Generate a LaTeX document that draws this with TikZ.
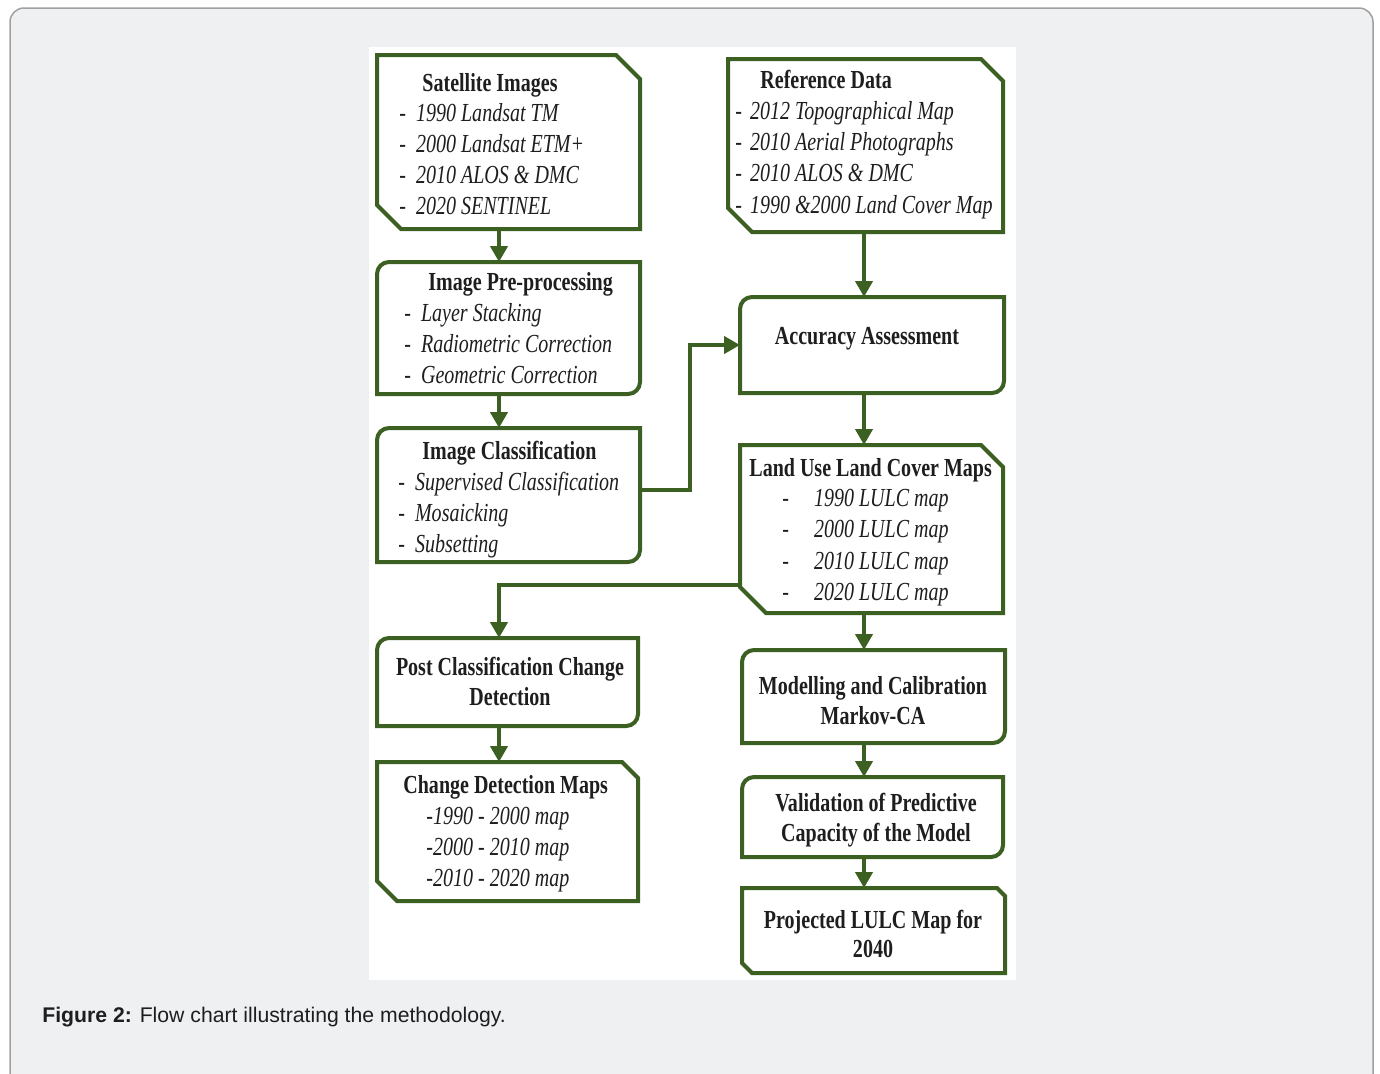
\documentclass[tikz,border=0pt]{standalone}
\usepackage{fontspec}
\setmainfont{Liberation Serif}
\newfontfamily\tnr[FakeStretch=0.77]{Liberation Serif}
\newfontfamily\capfont{Liberation Sans}
\usetikzlibrary{arrows.meta,calc}
\definecolor{grn}{RGB}{60,96,34}
\definecolor{framebg}{RGB}{239,240,242}
\definecolor{framedraw}{RGB}{160,160,160}
\definecolor{txtc}{RGB}{30,30,30}
\newcommand\cutbox[3]{%
 \draw[boxline] (#1.north west) -- ([xshift=-#2]#1.north east) -- ([yshift=-#2]#1.north east) -- (#1.south east) -- ([xshift=#3]#1.south west) -- ([yshift=#3]#1.south west) -- cycle;}
\newcommand\rndbox[1]{%
 \draw[boxline] ([yshift=-6pt]#1.north west) -- (#1.south west) -- ([xshift=-6pt]#1.south east) arc[start angle=-90,end angle=0,radius=6pt] -- (#1.north east) -- ([xshift=6pt]#1.north west) arc[start angle=90,end angle=180,radius=6pt] -- cycle;}
\begin{document}
\begin{tikzpicture}[x=0.5pt,y=-0.5pt,
  frame/.style={draw=none, inner sep=0pt, outer sep=0pt, rectangle},
  boxline/.style={draw=grn, line width=2pt, line join=miter},
  arr/.style={draw=grn, line width=2.2pt, -{Triangle[width=8.5pt,length=8pt]}},
  ttl/.style={font=\tnr\fontsize{13}{15}\selectfont\bfseries, inner sep=0pt, text=txtc},
  itm/.style={font=\tnr\fontsize{13}{15}\selectfont, inner sep=0pt, text=txtc, anchor=base west}]
\useasboundingbox (0,0) rectangle (1380,1073);
\clip (0,0) rectangle (1380,1073);
\fill[white] (0,0) rectangle (1380,1073);
\draw[draw=framedraw, fill=framebg, line width=0.75pt, rounded corners=7pt] (10,8) rectangle (1373,1095);
\fill[white] (369,47) rectangle (1016,980);

% box nodes
\node[frame, minimum width=131.5pt, minimum height=87pt] (sat) at (508.5,142) {};
\node[frame, minimum width=137.5pt, minimum height=86.5pt] (ref) at (865.5,145.5) {};
\node[frame, minimum width=131.5pt, minimum height=66pt] (pre) at (508.5,328) {};
\node[frame, minimum width=131.5pt, minimum height=67pt] (cls) at (508.5,495) {};
\node[frame, minimum width=132pt, minimum height=48pt] (acc) at (872,345) {};
\node[frame, minimum width=131.5pt, minimum height=84pt] (lulc) at (871.5,529) {};
\node[frame, minimum width=130.5pt, minimum height=44pt] (post) at (507.5,682) {};
\node[frame, minimum width=130.5pt, minimum height=69.5pt] (cdm) at (507.5,831.5) {};
\node[frame, minimum width=131.5pt, minimum height=46.5pt] (model) at (873.5,696.5) {};
\node[frame, minimum width=130.5pt, minimum height=40pt] (valid) at (872.5,817) {};
\node[frame, minimum width=131.5pt, minimum height=42.5pt] (proj) at (873.5,930.5) {};

% outlines
\cutbox{sat}{12pt}{12pt}
\cutbox{ref}{11pt}{12pt}
\rndbox{pre}
\rndbox{cls}
\rndbox{acc}
\cutbox{lulc}{11pt}{13pt}
\rndbox{post}
\cutbox{cdm}{8pt}{10pt}
\rndbox{model}
\rndbox{valid}
\cutbox{proj}{4pt}{5pt}

% texts
\node[ttl, anchor=base] (satT) at (490,91) {Satellite Images};
\node[itm] (sat1) at (399,121) {-\hspace{5pt}\textit{1990 Landsat TM}};
\node[itm] (sat2) at (399,152) {-\hspace{5pt}\textit{2000 Landsat ETM+}};
\node[itm] (sat3) at (399,183) {-\hspace{5pt}\textit{2010 ALOS \& DMC}};
\node[itm] (sat4) at (399,214) {-\hspace{5pt}\textit{2020 SENTINEL}};

\node[ttl, anchor=base west] (refT) at (760,88) {Reference Data};
\node[itm] (ref1) at (735,119) {-\hspace{4pt}\textit{2012 Topographical Map}};
\node[itm] (ref2) at (735,150) {-\hspace{4pt}\textit{2010 Aerial Photographs}};
\node[itm] (ref3) at (735,181) {-\hspace{4pt}\textit{2010 ALOS \& DMC}};
\node[itm] (ref4) at (735,213) {-\hspace{4pt}\textit{1990 \&2000 Land Cover Map}};

\node[ttl, anchor=base west] (preT) at (428,290) {Image Pre-processing};
\node[itm] (pre1) at (404,321) {-\hspace{5pt}\textit{Layer Stacking}};
\node[itm] (pre2) at (404,352) {-\hspace{5pt}\textit{Radiometric Correction}};
\node[itm] (pre3) at (404,383) {-\hspace{5pt}\textit{Geometric Correction}};

\node[ttl, anchor=base west] (clsT) at (422,459) {Image Classification};
\node[itm] (cls1) at (398,490) {-\hspace{5pt}\textit{Supervised Classification}};
\node[itm] (cls2) at (398,521) {-\hspace{5pt}\textit{Mosaicking}};
\node[itm] (cls3) at (398,552) {-\hspace{5pt}\textit{Subsetting}};

\node[ttl, anchor=base] (accT) at (867,344) {Accuracy Assessment};

\node[ttl, anchor=base west] (lulcT) at (749,476) {Land Use Land Cover Maps};
\node[itm] (lulc1) at (782,506) {-\hspace{12.5pt}\textit{1990 LULC map}};
\node[itm] (lulc2) at (782,537) {-\hspace{12.5pt}\textit{2000 LULC map}};
\node[itm] (lulc3) at (782,569) {-\hspace{12.5pt}\textit{2010 LULC map}};
\node[itm] (lulc4) at (782,600) {-\hspace{12.5pt}\textit{2020 LULC map}};

\node[ttl, anchor=base] (postT1) at (510,675) {Post Classification Change};
\node[ttl, anchor=base] (postT2) at (510,705) {Detection};

\node[ttl, anchor=base west] (cdmT) at (403,793) {Change Detection Maps};
\node[itm] (cdm1) at (426,824) {\textit{-1990 - 2000 map}};
\node[itm] (cdm2) at (426,855) {\textit{-2000 - 2010 map}};
\node[itm] (cdm3) at (426,886) {\textit{-2010 - 2020 map}};

\node[ttl, anchor=base] (modelT1) at (873,694) {Modelling and Calibration};
\node[ttl, anchor=base] (modelT2) at (873,724) {Markov-CA};

\node[ttl, anchor=base] (validT1) at (876,811) {Validation of Predictive};
\node[ttl, anchor=base] (validT2) at (876,841) {Capacity of the Model};

\node[ttl, anchor=base] (projT1) at (873,928) {Projected LULC Map for};
\node[ttl, anchor=base] (projT2) at (873,957) {2040};

% connectors
\coordinate (lx) at (499,0);
\coordinate (rx) at (864,0);
\draw[arr] (lx |- sat.south) -- (lx |- pre.north);
\draw[arr] (lx |- pre.south) -- (lx |- cls.north);
\draw[arr] (lx |- post.south) -- (lx |- cdm.north);
\draw[arr] (rx |- ref.south) -- (rx |- acc.north);
\draw[arr] (rx |- acc.south) -- (rx |- lulc.north);
\draw[arr] (rx |- lulc.south) -- (rx |- model.north);
\draw[arr] (rx |- model.south) -- (rx |- valid.north);
\draw[arr] (rx |- valid.south) -- (rx |- proj.north);
\draw[arr] ([yshift=2.5pt]cls.east) -- ++(50,0) |- (acc.west);
\draw[arr] ([yshift=-28pt]lulc.west) -| (lx |- post.north);

% caption
\node[anchor=base west, font=\capfont\fontsize{10.6}{12.5}\selectfont, inner sep=0pt, text=txtc] (cap) at (42,1022) {\textbf{Figure 2:} Flow chart illustrating the methodology.};
\end{tikzpicture}
\end{document}
